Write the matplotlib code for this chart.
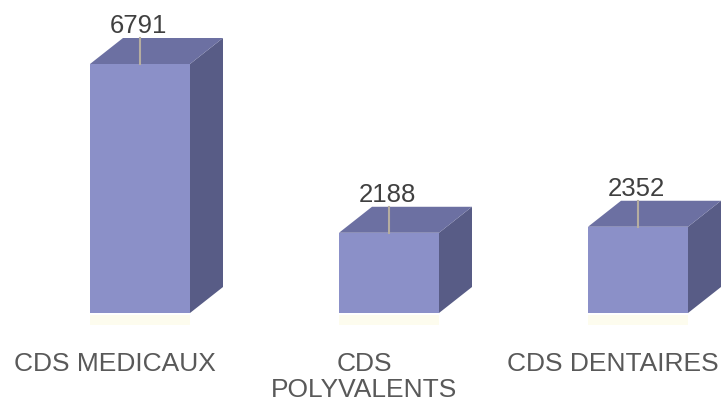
import matplotlib.pyplot as plt
from matplotlib.patches import Polygon

categories = ["CDS MEDICAUX", "CDS\nPOLYVALENTS", "CDS DENTAIRES"]
values = [6791, 2188, 2352]

FRONT = "#8b90c8"
TOP = "#6c70a2"
SIDE = "#585c86"

W, H, DPI = 722, 406, 100
fig = plt.figure(figsize=(W / DPI, H / DPI), dpi=DPI)
ax = fig.add_axes([0, 0, 1, 1])

# axis scale: 249 px between categories, 249 px for the tallest bar
px_per_cat = 249.0
px_per_val = 249.0 / 6791
ax.set_xlim(-140 / px_per_cat, (W - 140) / px_per_cat)
ax.set_ylim(-92 / px_per_val, (H - 92) / px_per_val)
ax.axis("off")

half = 50 / px_per_cat          # half width of the front face
dx = 33 / px_per_cat            # depth offset, x
dy = 26 / px_per_val            # depth offset, y

for i, (cat, v) in enumerate(zip(categories, values)):
    x0, x1 = i - half, i + half
    front = Polygon([(x0, 0), (x1, 0), (x1, v), (x0, v)], closed=True,
                    fc=FRONT, ec="none")
    top = Polygon([(x0, v), (x1, v), (x1 + dx, v + dy), (x0 + dx, v + dy)],
                  closed=True, fc=TOP, ec="none")
    side = Polygon([(x1, 0), (x1, v), (x1 + dx, v + dy), (x1 + dx, dy)],
                   closed=True, fc=SIDE, ec="none")
    for p in (side, top, front):
        ax.add_patch(p)

    # faint floor glow under the bar
    ax.fill_between([x0, x1], -12 / px_per_val, -2 / px_per_val,
                    color="#fdfcee", lw=0)

    # leader line and value label
    ax.plot([i, i], [v, v + dy], color="#b5ada0", lw=1.5)
    ax.annotate(str(v), xy=(i, v), xytext=(-2, 32), textcoords="offset pixels",
                ha="center", va="baseline", fontsize=18.5,
                family="Liberation Sans", color="#404040")

    ax.annotate(cat, xy=(i, 0), xytext=(-25, -38), textcoords="offset pixels",
                ha="center", va="top", fontsize=19, linespacing=1.08,
                family="Liberation Sans", color="#595959")

fig.savefig("out.png", dpi=DPI)
